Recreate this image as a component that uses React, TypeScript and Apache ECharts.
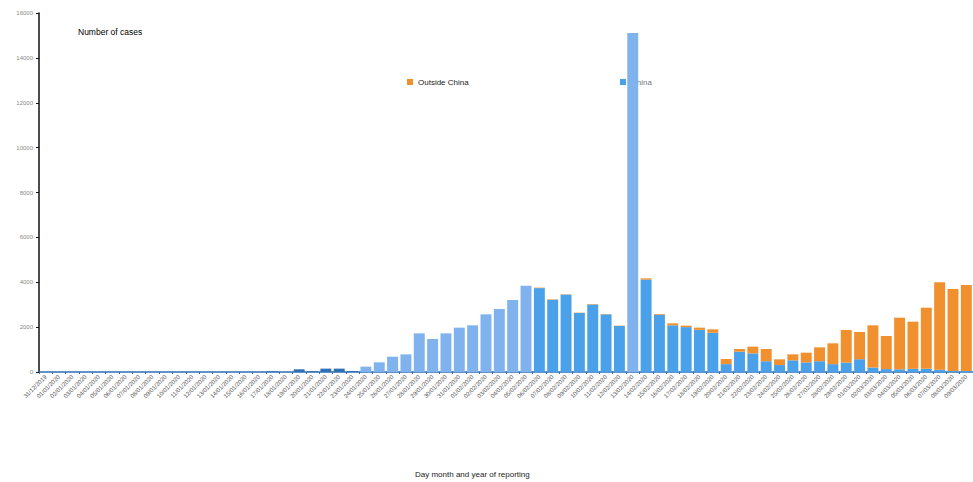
import React, { useEffect, useRef } from "react";
import * as echarts from "echarts";

const categories = [
  "31/12/2019", "01/01/2020", "02/01/2020", "03/01/2020", "04/01/2020", "05/01/2020", "06/01/2020", "07/01/2020",
  "08/01/2020", "09/01/2020", "10/01/2020", "11/01/2020", "12/01/2020", "13/01/2020", "14/01/2020", "15/01/2020",
  "16/01/2020", "17/01/2020", "18/01/2020", "19/01/2020", "20/01/2020", "21/01/2020", "22/01/2020", "23/01/2020",
  "24/01/2020", "25/01/2020", "26/01/2020", "27/01/2020", "28/01/2020", "29/01/2020", "30/01/2020", "31/01/2020",
  "01/02/2020", "02/02/2020", "03/02/2020", "04/02/2020", "05/02/2020", "06/02/2020", "07/02/2020", "08/02/2020",
  "09/02/2020", "10/02/2020", "11/02/2020", "12/02/2020", "13/02/2020", "14/02/2020", "15/02/2020", "16/02/2020",
  "17/02/2020", "18/02/2020", "19/02/2020", "20/02/2020", "21/02/2020", "22/02/2020", "23/02/2020", "24/02/2020",
  "25/02/2020", "26/02/2020", "27/02/2020", "28/02/2020", "29/02/2020", "01/03/2020", "02/03/2020", "03/03/2020",
  "04/03/2020", "05/03/2020", "06/03/2020", "07/03/2020", "08/03/2020", "09/03/2020",
];

const chinaCases = [
  0, 0, 0, 0, 0, 0, 0, 0,
  0, 0, 0, 0, 0, 0, 0, 0,
  0, 30, 0, 120, 35, 150, 150, 45,
  238, 431, 683, 787, 1723, 1471, 1723, 1976,
  2080, 2570, 2808, 3209, 3846, 3740, 3220, 3450,
  2630, 3010, 2570, 2050, 15109, 4120, 2550, 2080,
  2000, 1880, 1750, 350, 905, 830, 480, 310,
  520, 430, 480, 350, 420, 570, 200, 130,
  120, 140, 145, 100, 45, 40,
];

const outsideChinaCases = [
  0, 0, 0, 0, 0, 0, 0, 0,
  0, 0, 0, 0, 0, 0, 0, 0,
  0, 0, 0, 0, 0, 0, 0, 0,
  0, 0, 0, 0, 0, 0, 0, 0,
  0, 0, 0, 0, 0, 20, 20, 13,
  13, 20, 15, 15, 0, 55, 35, 90,
  65, 95, 150, 230, 120, 300, 545, 255,
  267, 432, 619, 928, 1452, 1213, 1880, 1474,
  2301, 2103, 2722, 3896, 3654, 3837,
];

const yTicks = { min: 0, max: 16000, interval: 2000 };

const CHINA = "#4aa1ea";
const CHINA_LIGHT = "#80b3ee";
const CHINA_DARK = "#2f6fb3";
const OUTSIDE = "#f0902f";

export default function App() {
  const ref = useRef<HTMLDivElement>(null);
  useEffect(() => {
    if (!ref.current) return;
    const chart = echarts.init(ref.current, undefined, { renderer: "svg" });
    const font = "Liberation Sans, Arial, sans-serif";
    chart.setOption({
      animation: false,
      backgroundColor: "#ffffff",
      textStyle: { fontFamily: font },
      title: [
        {
          text: "Number of cases",
          left: 78,
          top: 27,
          padding: 0,
          textStyle: { fontSize: 8.5, fontWeight: "normal", color: "#000", fontFamily: font },
        },
        {
          text: "Day month and year of reporting",
          left: 415,
          top: 470,
          padding: 0,
          textStyle: { fontSize: 8, fontWeight: "normal", color: "#222", fontFamily: font },
        },
      ],
      legend: [
        {
          data: ["Outside China"],
          left: 407,
          top: 78,
          padding: 0,
          icon: "rect",
          itemWidth: 6,
          itemHeight: 6,
          itemGap: 4,
          textStyle: { fontSize: 8, color: "#222", fontFamily: font },
        },
        {
          data: ["China"],
          left: 620,
          top: 78,
          padding: 0,
          z: 1,
          icon: "rect",
          itemWidth: 6,
          itemHeight: 6,
          textStyle: { fontSize: 8, color: "#777", fontFamily: font },
        },
      ],
      grid: { left: 39, right: -6, top: 13, bottom: 110, containLabel: false },
      xAxis: {
        type: "category",
        data: categories,
        axisLine: { show: true, lineStyle: { color: "#2e6db4", width: 1.5 } },
        axisTick: { show: true, length: 2, lineStyle: { color: "#2e6db4" } },
        axisLabel: {
          interval: 0,
          rotate: 45,
          fontSize: 6,
          color: "#555",
          margin: 4,
          fontFamily: font,
        },
      },
      yAxis: {
        type: "value",
        min: yTicks.min,
        max: yTicks.max,
        interval: yTicks.interval,
        splitLine: { show: false },
        axisLine: { show: true, lineStyle: { color: "#111", width: 1.5 } },
        axisTick: { show: true, length: 3, lineStyle: { color: "#111" } },
        axisLabel: {
          fontSize: 6,
          color: "#888",
          margin: 6,
          fontFamily: font,
          formatter: (v: number) => String(v),
        },
      },
      series: [
        {
          name: "China",
          type: "bar",
          stack: "cases",
          z: 2,
          barCategoryGap: "18%",
          itemStyle: { color: CHINA },
          data: chinaCases.map((v, i) => ({
            value: v,
            itemStyle: {
              color: i < 24 ? CHINA_DARK : i <= 36 || i === 44 ? CHINA_LIGHT : CHINA,
            },
          })),
        },
        {
          name: "Outside China",
          type: "bar",
          stack: "cases",
          z: 2,
          barCategoryGap: "18%",
          itemStyle: { color: OUTSIDE },
          data: outsideChinaCases,
        },
      ],
    });
    return () => chart.dispose();
  }, []);
  return (
    <div
      ref={ref}
      style={{ position: "fixed", left: 0, top: 0, width: 973, height: 482, background: "#fff" }}
    />
  );
}
